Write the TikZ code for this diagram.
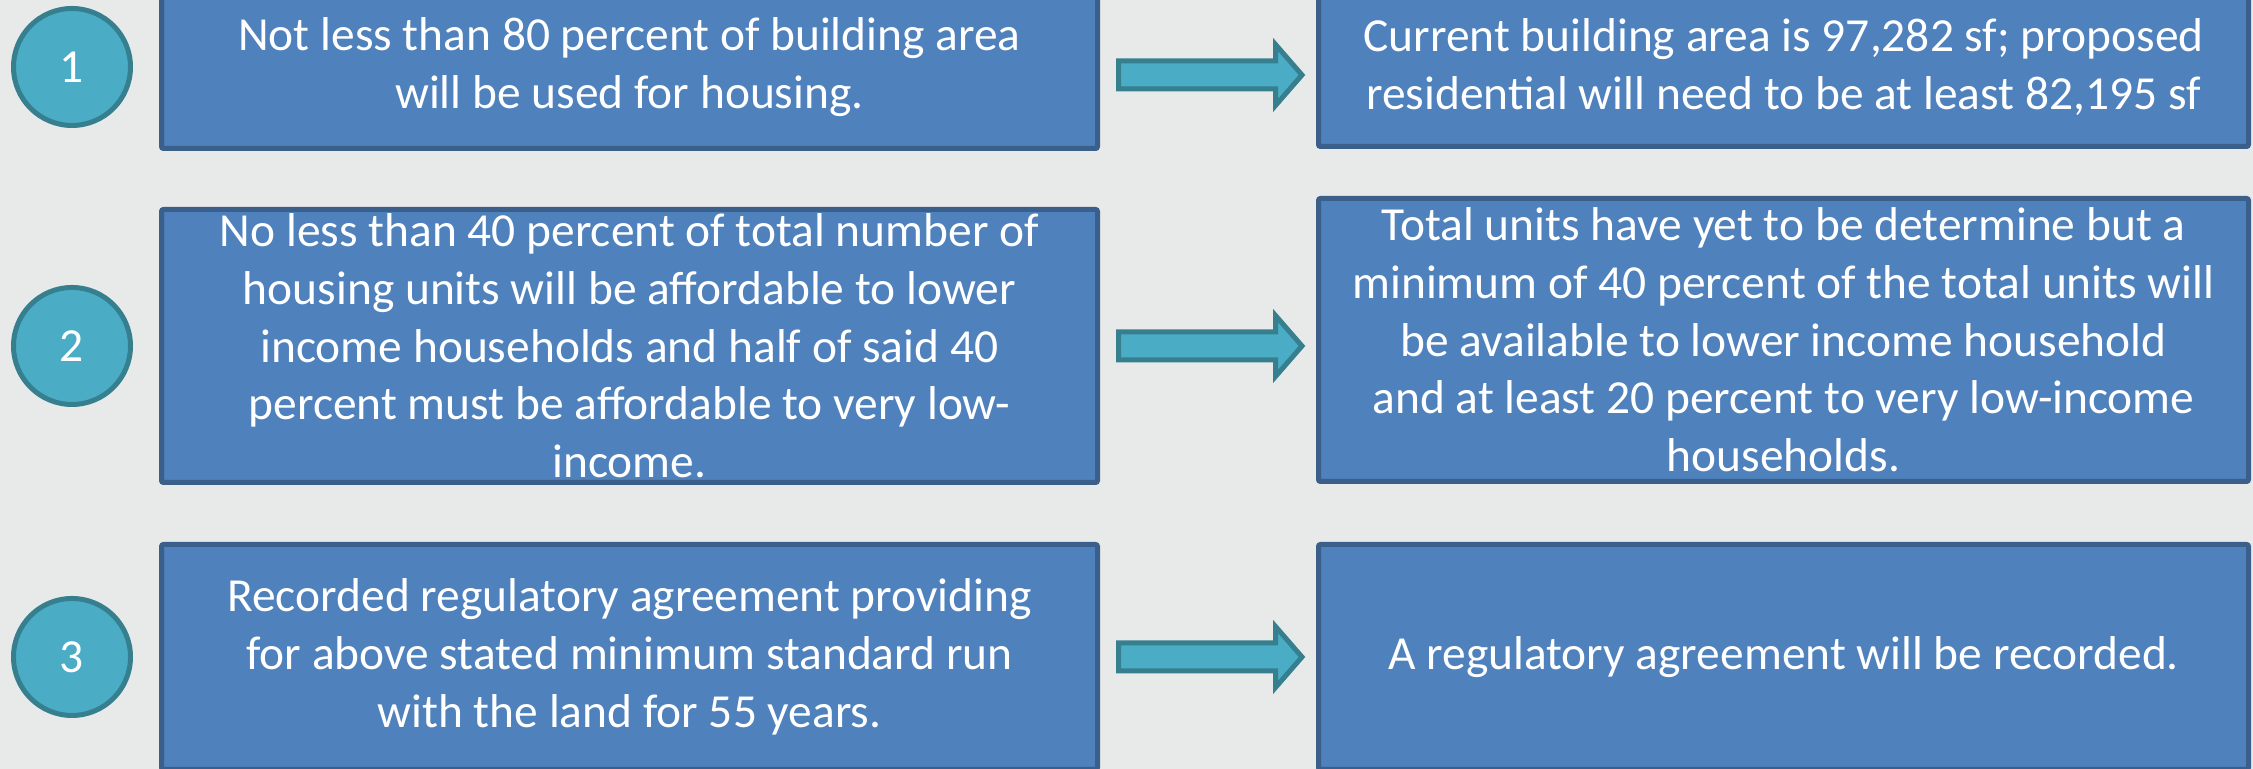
\documentclass[tikz,border=0pt]{standalone}
\usepackage{fontspec}
\setmainfont{Carlito}
\usetikzlibrary{positioning,calc}
\definecolor{bgcol}{HTML}{E8EAE9}
\definecolor{boxfill}{HTML}{4F81BD}
\definecolor{boxline}{HTML}{3A5F8B}
\definecolor{tealfill}{HTML}{4BACC6}
\definecolor{tealline}{HTML}{367F8F}
\begin{document}
\begin{tikzpicture}[
  every node/.style={font=\fontsize{13.5}{16.4}\selectfont, text=white},
  num/.style={circle, fill=tealfill, draw=tealline, line width=0.05cm, minimum size=1.17cm, inner sep=0pt},
  infobox/.style={rectangle, rounded corners=0.02cm, fill=boxfill, draw=boxline, line width=0.05cm, align=center, inner sep=0pt},
  lbox/.style={infobox, minimum width=9.36cm},
  rbox/.style={infobox, minimum width=9.30cm},
  blockarrow/.style={fill=tealfill, draw=tealline, line width=0.05cm}
]
  \useasboundingbox (0,0) rectangle (22.53,7.69);
  \fill[bgcol] (0,0) rectangle (22.53,7.69);

  \node[num] (C1) at (0.72,7.02) {1};
  \node[num] (C2) at (0.72,4.23) {2};
  \node[num] (C3) at (0.72,1.12) {3};

  \node[lbox, minimum height=1.63cm] (L1) [right=0.26cm of C1]
    {Not less than 80 percent of building area\\will be used for housing.};
  \node[lbox, minimum height=2.73cm] (L2) [right=0.26cm of C2]
    {No less than 40 percent of total number of\\housing units will be affordable to lower\\income households and half of said 40\\percent must be affordable to very low-\\income.};
  \node[lbox, minimum height=2.25cm] (L3) [right=0.26cm of C3]
    {Recorded regulatory agreement providing\\for above stated minimum standard run\\with the land for 55 years.};

  \node[rbox, minimum height=1.59cm] (R1) [right=2.16cm of L1]
    {Current building area is 97,282 sf; proposed\\residential will need to be at least 82,195 sf};
  \node[rbox, minimum height=2.83cm] (R2) [right=2.16cm of L2, yshift=0.06cm]
    {Total units have yet to be determine but a\\minimum of 40 percent of the total units will\\be available to lower income household\\and at least 20 percent to very low-income\\households.};
  \node[rbox, minimum height=2.25cm] (R3) [right=2.16cm of L3]
    {A regulatory agreement will be recorded.};

  \foreach \i/\dy in {1/-0.08,2/0,3/0}
    \draw[blockarrow] ($(L\i.east)+(1.08,\dy)$) ++(-0.895,0.14) -- ++(1.57,0) -- ++(0,0.165)
      -- ++(0.265,-0.305) -- ++(-0.265,-0.305) -- ++(0,0.165) -- ++(-1.57,0) -- cycle;
\end{tikzpicture}
\end{document}
